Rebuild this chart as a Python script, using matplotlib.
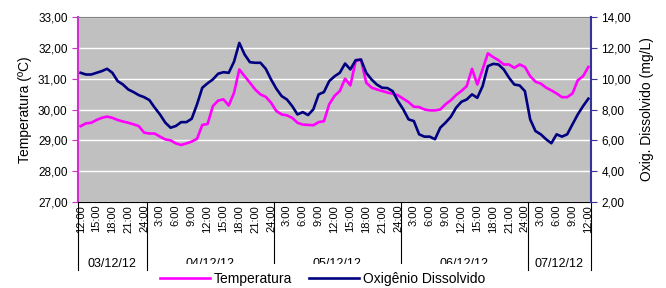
import numpy as np
import matplotlib
matplotlib.use("Agg")
import matplotlib.pyplot as plt
import matplotlib.transforms as mtransforms
from matplotlib.lines import Line2D

plt.rcParams['font.family'] = ['Liberation Sans', 'DejaVu Sans']

# hourly readings, 03/12/12 12:00 -> 07/12/12 12:00
temperatura = [29.46, 29.55, 29.57, 29.66, 29.73, 29.77, 29.73, 29.66, 29.61, 29.57,
               29.52, 29.46, 29.25, 29.22, 29.22, 29.12, 29.03, 29.00, 28.90, 28.85,
               28.90, 28.96, 29.05, 29.50, 29.53, 30.11, 30.29, 30.33, 30.13, 30.54,
               31.30, 31.08, 30.87, 30.65, 30.49, 30.41, 30.22, 29.95, 29.84, 29.81,
               29.73, 29.57, 29.51, 29.50, 29.49, 29.59, 29.62, 30.17, 30.44, 30.60,
               31.00, 30.78, 31.57, 31.62, 30.87, 30.71, 30.65, 30.60, 30.55, 30.51,
               30.46, 30.35, 30.24, 30.09, 30.08, 30.00, 29.97, 29.97, 30.00, 30.17,
               30.30, 30.47, 30.60, 30.76, 31.32, 30.81, 31.30, 31.82, 31.70, 31.60,
               31.46, 31.46, 31.35, 31.46, 31.38, 31.08, 30.90, 30.84, 30.71, 30.62,
               30.52, 30.40, 30.40, 30.52, 30.95, 31.08, 31.38]

oxigenio = [10.38, 10.27, 10.27, 10.38, 10.49, 10.64, 10.38, 9.84, 9.62, 9.30,
            9.13, 8.93, 8.80, 8.61, 8.12, 7.68, 7.15, 6.82, 6.93, 7.18,
            7.18, 7.40, 8.33, 9.41, 9.70, 9.95, 10.32, 10.42, 10.38, 11.10,
            12.32, 11.57, 11.07, 11.03, 11.03, 10.64, 9.95, 9.35, 8.87, 8.65,
            8.22, 7.68, 7.83, 7.64, 8.01, 8.98, 9.13, 9.84, 10.15, 10.38,
            10.98, 10.60, 11.20, 11.24, 10.38, 9.95, 9.62, 9.41, 9.39, 9.19,
            8.54, 8.01, 7.36, 7.25, 6.39, 6.24, 6.24, 6.07, 6.82, 7.15,
            7.53, 8.12, 8.50, 8.65, 8.98, 8.76, 9.51, 10.81, 10.96, 10.92,
            10.60, 10.06, 9.62, 9.56, 9.19, 7.36, 6.60, 6.39, 6.07, 5.81,
            6.39, 6.24, 6.39, 7.04, 7.68, 8.22, 8.70]

hour_labels = ["12:00", "15:00", "18:00", "21:00", "24:00",
               "3:00", "6:00", "9:00", "12:00", "15:00", "18:00", "21:00", "24:00",
               "3:00", "6:00", "9:00", "12:00", "15:00", "18:00", "21:00", "24:00",
               "3:00", "6:00", "9:00", "12:00", "15:00", "18:00", "21:00", "24:00",
               "3:00", "6:00", "9:00", "12:00"]
dias = ["03/12/12", "04/12/12", "05/12/12", "06/12/12", "07/12/12"]
dia_limites = [0, 12, 36, 60, 84, 96]  # hour index where each day ends

horas = np.arange(len(temperatura))

fig = plt.figure(figsize=(6.66, 2.88), dpi=100)
ax = fig.add_axes([78/666, 86/288, 513/666, 185/288])
ax2 = ax.twinx()

ax.set_facecolor('#C0C0C0')
ax.set_zorder(1)
ax2.set_zorder(2)

ax.plot(horas, temperatura, color='#FF00FF', lw=1.9, solid_joinstyle='round')
ax2.plot(horas, oxigenio, color='#000080', lw=1.9, solid_joinstyle='round')

ax.set_xlim(-0.5, 96.5)
ax.set_ylim(27, 33)
ax2.set_ylim(2, 14)
ax.set_yticks(np.arange(27, 33.1, 1))
ax2.set_yticks(np.arange(2, 14.1, 2))
ax.yaxis.set_major_formatter(plt.FuncFormatter(lambda v, p: f"{v:.2f}".replace('.', ',')))
ax2.yaxis.set_major_formatter(plt.FuncFormatter(lambda v, p: f"{v:.2f}".replace('.', ',')))
ax.grid(axis='y', color='white', lw=1)
ax.set_axisbelow(True)

ax.set_xticks(np.arange(0, 97, 3))
ax.set_xticklabels(hour_labels, rotation=90, fontsize=8)
ax.tick_params(axis='x', length=0, pad=2)
ax.tick_params(axis='y', labelsize=8.5, length=4, color='#CC33CC', direction='out')
ax2.tick_params(axis='y', labelsize=8.5, length=4, color='#333399', direction='out')

for s in ['top', 'right', 'left', 'bottom']:
    ax2.spines[s].set_visible(False)
ax.spines['left'].set_color('#CC33CC')
ax.spines['left'].set_linewidth(1.5)
ax.spines['top'].set_color('#808080')
ax.spines['right'].set_visible(False)
ax2.spines['right'].set_visible(True)
ax2.spines['right'].set_color('#333399')
ax2.spines['right'].set_linewidth(1.5)
ax.spines['bottom'].set_color('black')

ax.set_ylabel('Temperatura (ºC)', fontsize=10, labelpad=4)
ax2.set_ylabel('Oxig. Dissolvido (mg/L)', fontsize=10, labelpad=6)

# day separators and date labels below the hour labels
trans = mtransforms.blended_transform_factory(ax.transData, ax.transAxes)
for i, h in enumerate(dia_limites):
    xs = -0.5 if i == 0 else (96.5 if i == len(dia_limites) - 1 else h + 0.5)
    ax.plot([xs, xs], [0, -0.37], transform=trans, color='black', lw=0.8, clip_on=False)
for i, d in enumerate(dias):
    a = -0.5 if i == 0 else dia_limites[i] + 0.5
    b = 96.5 if i == len(dias) - 1 else dia_limites[i + 1] + 0.5
    ax.text((a + b) / 2, -0.335, d, transform=trans, ha='center', va='center', fontsize=9)

# legend box is opaque and sits over the lower part of the date row
handles = [Line2D([], [], color='#FF00FF', lw=1.9), Line2D([], [], color='#000080', lw=1.9)]
leg = fig.legend(handles, ['Temperatura', 'Oxigênio Dissolvido'], loc='center',
                 bbox_to_anchor=(0.484, 0.03), ncol=2, fontsize=10, frameon=True,
                 handlelength=3.6, handletextpad=0.3, columnspacing=1.2,
                 borderpad=0.6, fancybox=False)
leg.get_frame().set_facecolor('white')
leg.get_frame().set_edgecolor('none')
leg.get_frame().set_alpha(1)
leg.set_zorder(10)

fig.savefig('out.png', dpi=100, facecolor='white')
